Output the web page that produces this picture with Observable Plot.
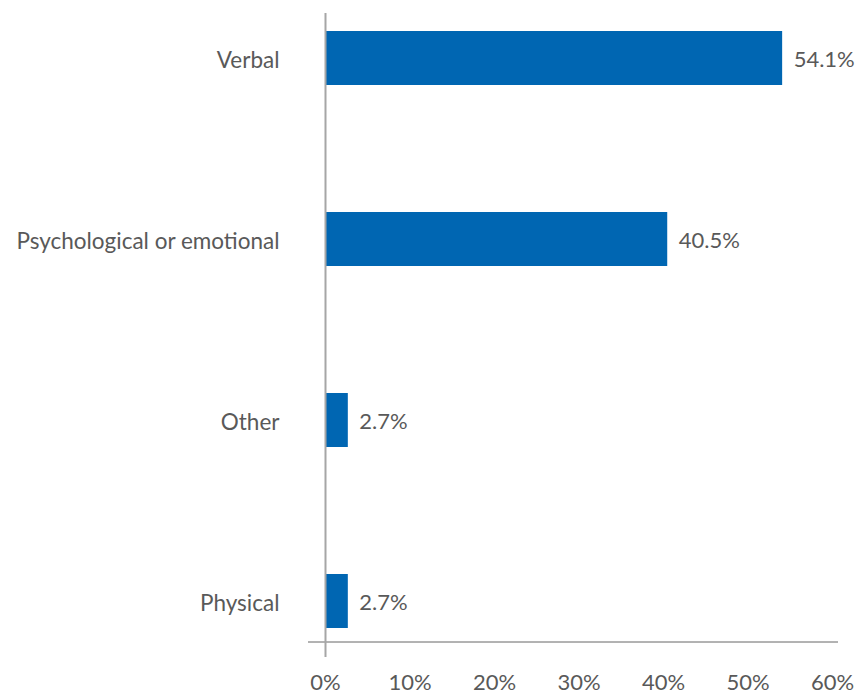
<!DOCTYPE html>
<html>
<head>
<meta charset="utf-8">
<script src="https://cdn.jsdelivr.net/npm/d3@7"></script>
<script src="https://cdn.jsdelivr.net/npm/@observablehq/plot@0.6"></script>
<style>
  html, body { margin: 0; padding: 0; background: #fff; }
  #chart svg { display: block; }
</style>
</head>
<body>
<div id="chart"></div>
<script>
const categories = ["Verbal", "Psychological or emotional", "Other", "Physical"];
const values = [54.1, 40.5, 2.7, 2.7];
const xTicks = [0, 10, 20, 30, 40, 50, 60];

const data = categories.map((c, i) => ({category: c, value: values[i]}));

const font = "Lato, 'Noto Sans', sans-serif";
const textColor = "#595959";

const chart = Plot.plot({
  width: 863,
  height: 696,
  marginTop: 13,
  marginBottom: 39,
  marginLeft: 308,
  marginRight: 25,
  style: {fontFamily: font, background: "#fff"},
  x: {domain: [0, 60], range: [325, 832]},
  y: {domain: categories, range: [11.8, 647.8], paddingInner: 0.7, paddingOuter: 0.1},
  marks: [
    Plot.barX(data, {y: "category", x: "value", fill: "#0066B2"}),
    Plot.ruleY(["Physical"], {dy: 40.5, stroke: "#666666", strokeWidth: 1}),
    Plot.ruleX([0], {stroke: "#a6a6a6", strokeWidth: 2}),
    Plot.text(data, {
      y: "category", x: "value", text: d => d.value.toFixed(1) + "%",
      textAnchor: "start", dx: 11, dy: 1.5, fontSize: 22, fill: textColor, fontFamily: font
    }),
    Plot.axisY({tickSize: 0, tickPadding: 29, dy: 2, fontSize: 22.5, color: textColor, label: null, fontFamily: font}),
    Plot.axisX({ticks: xTicks, tickFormat: d => d + "%", tickSize: 0, tickPadding: 17, fontSize: 22, color: textColor, label: null, fontFamily: font})
  ]
});
document.getElementById("chart").appendChild(chart);
</script>
</body>
</html>
